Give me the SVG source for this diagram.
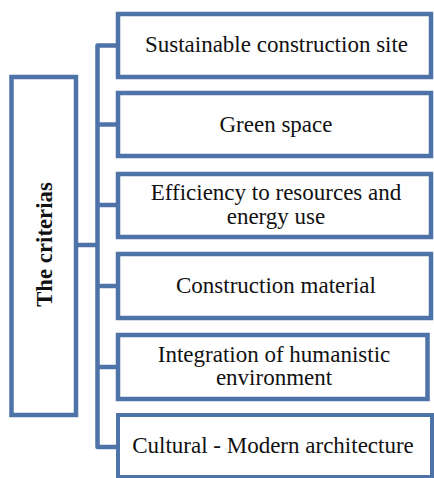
<svg xmlns="http://www.w3.org/2000/svg" width="434" height="478" viewBox="0 0 434 478">
  <style>
    .box { fill: #ffffff; stroke: #4e73a8; stroke-width: 4.5; }
    .link { fill: none; stroke: #4e73a8; stroke-width: 4.5; stroke-linejoin: round; }
    .label { font-family: 'Liberation Serif', 'Times New Roman', Times, serif; font-size: 23px; fill: #111111; text-anchor: middle; }
    .title { font-family: 'Liberation Serif', 'Times New Roman', Times, serif; font-size: 22.8px; font-weight: bold; fill: #111111; text-anchor: middle; }
  </style>
  <rect width="434" height="478" fill="#ffffff"/>

  <!-- connectors: root to trunk, trunk, and one stub per criterion -->
  <g id="connectors">
    <path class="link" d="M76 245 H97.5"/>
    <path class="link" d="M118 45.5 H97.5 V447 H118"/>
    <path class="link" d="M97.5 124.5 H118"/>
    <path class="link" d="M97.5 205 H118"/>
    <path class="link" d="M97.5 286 H118"/>
    <path class="link" d="M97.5 367 H118"/>
  </g>

  <!-- root node -->
  <g id="root">
    <rect class="box" x="11.5" y="77" width="64.5" height="338"/>
    <text class="title" transform="translate(52 244.5) rotate(-90)">The criterias</text>
  </g>

  <!-- criteria -->
  <g id="c1">
    <rect class="box" x="118" y="14" width="313" height="63"/>
    <text class="label" x="276.5" y="52">Sustainable construction site</text>
  </g>
  <g id="c2">
    <rect class="box" x="118" y="93" width="313" height="63"/>
    <text class="label" x="276" y="132">Green space</text>
  </g>
  <g id="c3">
    <rect class="box" x="118" y="174" width="313" height="63"/>
    <text class="label" x="276" y="200">Efficiency to resources and</text>
    <text class="label" x="276" y="224">energy use</text>
  </g>
  <g id="c4">
    <rect class="box" x="118" y="254" width="313" height="64"/>
    <text class="label" x="276" y="293">Construction material</text>
  </g>
  <g id="c5">
    <rect class="box" x="118" y="335" width="309.5" height="64"/>
    <text class="label" x="274" y="362">Integration of humanistic</text>
    <text class="label" x="274" y="385">environment</text>
  </g>
  <g id="c6">
    <rect class="box" x="118" y="415" width="314" height="62" style="stroke-width:4"/>
    <text class="label" x="273" y="453">Cultural - Modern architecture</text>
  </g>
</svg>
